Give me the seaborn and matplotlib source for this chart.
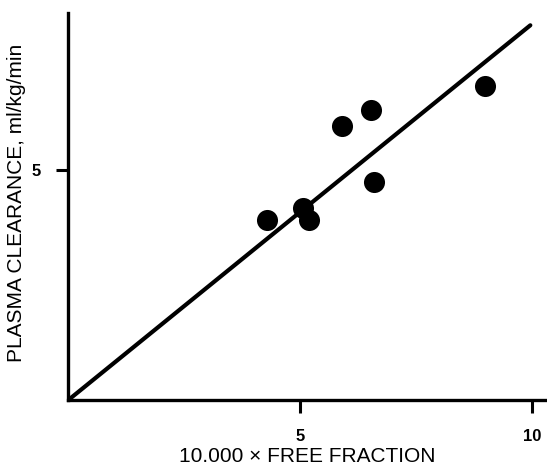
import matplotlib
matplotlib.use("Agg")
import matplotlib.pyplot as plt
import numpy as np
import pandas as pd
import seaborn as sns

# values
free_fraction = [4.28, 5.07, 5.20, 5.91, 6.53, 6.60, 9.00]
clearance = [3.90, 4.16, 3.90, 5.95, 6.29, 4.72, 6.81]
line_x = [0.0, 9.97]
line_y = [0.0, 8.13]
xticks = [5, 10]
yticks = [5]

df = pd.DataFrame({"ff": free_fraction, "cl": clearance})
fit = pd.DataFrame({"x": line_x, "y": line_y})

sns.set_style("white")
plt.rcParams['font.family'] = ['Liberation Sans', 'DejaVu Sans']
plt.rcParams['text.color'] = 'black'
plt.rcParams['axes.labelcolor'] = 'black'
plt.rcParams['xtick.color'] = 'black'
plt.rcParams['ytick.color'] = 'black'

fig = plt.figure(figsize=(5.47, 4.67), dpi=100)
ax = fig.add_axes([0.125, 0.1435, 0.875, 0.829])

sns.lineplot(data=fit, x="x", y="y", color="black", linewidth=3.0, ax=ax,
             solid_capstyle="round")
sns.scatterplot(data=df, x="ff", y="cl", color="black", s=230,
                edgecolor="black", linewidth=0, ax=ax, zorder=3)

ax.set_xlim(0, 10.33)
ax.set_ylim(0, 8.40)
ax.set_xticks(xticks)
ax.set_yticks(yticks)
ax.set_xticklabels([str(t) for t in xticks], fontsize=12, fontweight="bold")
ax.set_yticklabels([str(t) for t in yticks], fontsize=12, fontweight="bold")
ax.tick_params(axis="both", direction="out", length=9, width=2.2,
               left=True, bottom=True, pad=12)
ax.tick_params(axis="y", pad=11)

for s in ["top", "right"]:
    ax.spines[s].set_visible(False)
for s in ["left", "bottom"]:
    ax.spines[s].set_linewidth(2.4)
    ax.spines[s].set_color("black")

ax.set_xlabel("10.000 × FREE FRACTION", fontsize=15)
ax.set_ylabel("PLASMA CLEARANCE, ml/kg/min", fontsize=15)
ax.xaxis.set_label_coords(0.5, -0.146)
ax.yaxis.set_label_coords(-0.108, 0.51)
ax.xaxis.label.set_va("center")
ax.yaxis.label.set_va("center")

fig.savefig("out.png", dpi=100)
